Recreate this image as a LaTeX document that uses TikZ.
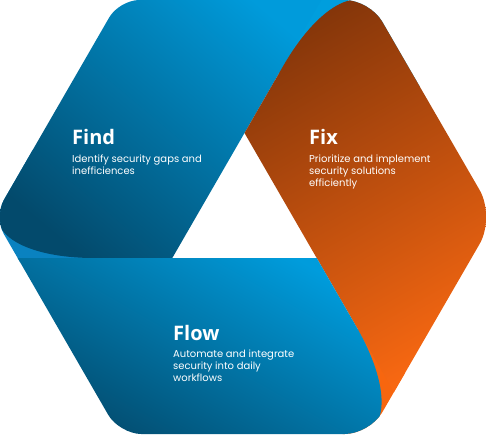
\documentclass[tikz,border=0pt]{standalone}
\usepackage{fontspec}
\setmainfont{Poppins}
\newfontfamily\headfont{Open Sans}
\usetikzlibrary{calc}
\definecolor{findlight}{HTML}{009BDB}
\definecolor{finddark}{HTML}{034A6C}
\definecolor{fixdark}{HTML}{85360A}
\definecolor{fixlight}{HTML}{FA6912}
\definecolor{flowlight}{HTML}{009CDC}
\definecolor{flowdark}{HTML}{034A6C}
\definecolor{flowback}{HTML}{0A82C0}
\definecolor{fixback}{HTML}{F7660F}
\definecolor{findback}{HTML}{009EDD}
\tikzset{
  title/.style={anchor=base west, text=white, font=\headfont\bfseries\fontsize{20}{22}\selectfont, inner sep=0pt},
  body/.style={anchor=base west, text=white, align=left, font=\fontsize{10}{12}\selectfont, inner sep=0pt},
}
\begin{document}
\begin{tikzpicture}[x=1pt,y=-1pt]
\useasboundingbox (0,0) rectangle (486,434);
% hexagon
\coordinate (L) at (-6,217);
\coordinate (TL) at (119.3,0);
\coordinate (TR) at (369.7,0);
\coordinate (R) at (495.2,217);
\coordinate (BR) at (369.7,434);
\coordinate (BL) at (119.3,434);
% inner triangle
\coordinate (A) at (244.5,133);
\coordinate (tL) at (172.3,258);
\coordinate (tR) at (316.7,258);
% fold vertices
\coordinate (VO) at (345.5,-41.9);
\coordinate (VF) at (-29.7,258);
\coordinate (VW) at (418.3,434);
\coordinate (Vb) at (394,391.9);
\coordinate (Oa) at ($(VO)!124pt!(A)$);
\coordinate (Ob) at ($(VO)!63pt!(R)$);
\coordinate (Fa) at ($(VF)!124pt!(tL)$);
\coordinate (Fb) at ($(VF)!63pt!(TL)$);
\coordinate (Wa) at ($(VW)!124pt!(tR)$);
\coordinate (Wb) at ($(VW)!63pt!(BL)$);
\begin{scope}
\clip ($(L)!20pt!(BL)$) .. controls ($(L)!9pt!(BL)$) and ($(L)!9pt!(TL)$) .. ($(L)!20pt!(TL)$)
 -- ($(TL)!20pt!(L)$) .. controls ($(TL)!9pt!(L)$) and ($(TL)!9pt!(TR)$) .. ($(TL)!20pt!(TR)$)
 -- ($(TR)!25pt!(TL)$) .. controls ($(TR)!11pt!(TL)$) and ($(TR)!11pt!(R)$) .. ($(TR)!25pt!(R)$)
 -- ($(R)!31pt!(TR)$) .. controls ($(R)!14pt!(TR)$) and ($(R)!14pt!(BR)$) .. ($(R)!31pt!(BR)$)
 -- ($(BR)!25pt!(R)$) .. controls ($(BR)!11pt!(R)$) and ($(BR)!11pt!(BL)$) .. ($(BR)!25pt!(BL)$)
 -- ($(BL)!22pt!(BR)$) .. controls ($(BL)!10pt!(BR)$) and ($(BL)!10pt!(L)$) .. ($(BL)!22pt!(L)$)
 -- cycle;
% back layers of the folds
\fill[findback] (275,70) -- (340,-60) -- (420,-60) -- (420,90) -- (300,90) -- cycle;
\fill[fixback] (350,330) -- (380,330) -- (460,470) -- (340,470) -- cycle;
\fill[flowback] (100,262) -- (-60,262) -- (-60,150) -- (40,150) -- cycle;
% Find band
\shade[top color=findlight, bottom color=finddark, shading angle=-40]
  (tL) -- (Fa) .. controls ($(Fa)!0.55!(VF)$) and ($(Fb)!0.55!(VF)$) .. (Fb)
  -- ($(Fb)!1.1!(TL)$) -- (327.1,-10) -- (A) -- cycle;
% Fix band
\shade[top color=fixdark, bottom color=fixlight, shading angle=30]
  (A) -- (Oa) .. controls ($(Oa)!0.55!(VO)$) and ($(Ob)!0.55!(VO)$) .. (Ob)
  -- (505,217) -- ($(A)!1.06!(Vb)$) -- cycle;
% Flow band
\shade[top color=flowlight, bottom color=flowdark, shading angle=-30]
  (tR) -- (Wa) .. controls ($(Wa)!0.55!(VW)$) and ($(Wb)!0.55!(VW)$) .. (Wb)
  -- (355.3,440) -- (110,440) -- (10,258) -- cycle;
\end{scope}
% texts
\node[title] (findT) at (72,144) {Find};
\node[body] (findB) at (72,174) {Identify security gaps and\\inefficiences};
\node[title] (fixT) at (309,144) {Fix};
\node[body] (fixB) at (309,186) {Prioritize and implement\\security solutions\\efficiently};
\node[title] (flowT) at (173,340) {Flow};
\node[body] (flowB) at (173,381) {Automate and integrate\\security into daily\\workflows};
\end{tikzpicture}
\end{document}
